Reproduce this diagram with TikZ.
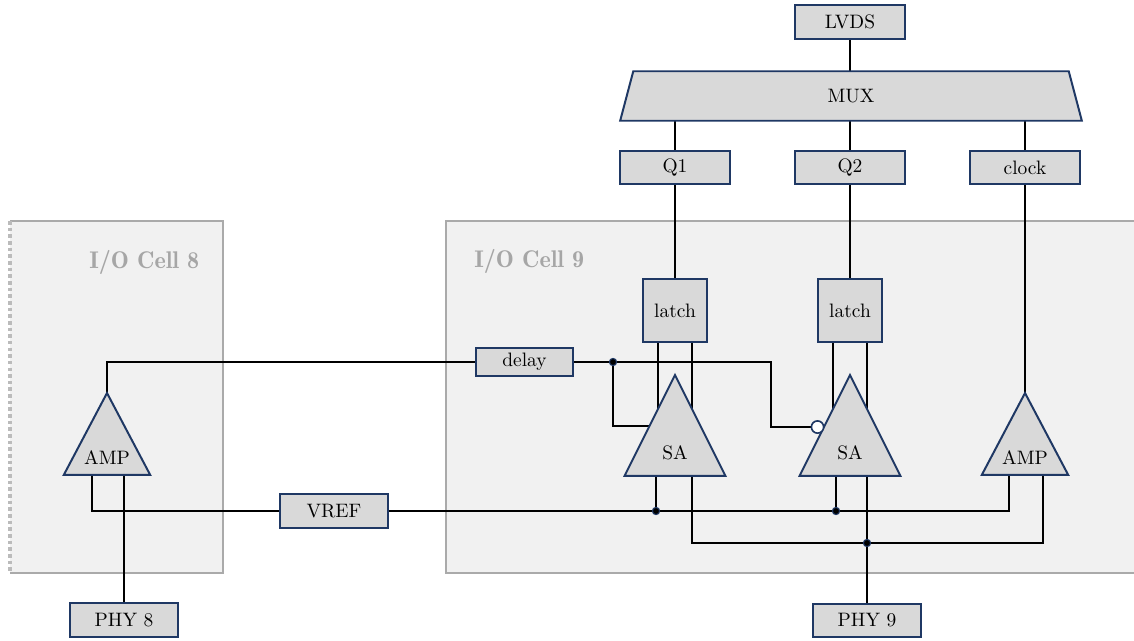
\documentclass[tikz,border=0pt]{standalone}
\usetikzlibrary{positioning,shapes.geometric,backgrounds}
\definecolor{navy}{RGB}{31,56,100}
\definecolor{boxgray}{RGB}{217,217,217}
\definecolor{cellgray}{RGB}{241,241,241}
\definecolor{celledge}{RGB}{170,170,170}
\tikzset{
  blk/.style={rectangle, draw=navy, line width=1.1pt, fill=boxgray, outer sep=0pt, align=center,
              font=\fontsize{10.8pt}{13pt}\selectfont},
  portbox/.style={blk, minimum width=61.3pt, minimum height=18.5pt},
  latchbox/.style={blk, minimum width=35.5pt, minimum height=35.5pt},
  tri/.style={isosceles triangle, isosceles triangle stretches, shape border rotate=90,
              draw=navy, line width=1.1pt, fill=boxgray, inner sep=0pt, outer sep=0pt, anchor=apex,
              font=\fontsize{10.8pt}{13pt}\selectfont},
  amptri/.style={tri, minimum width=48pt, minimum height=45.5pt, text depth=2.2pt},
  satri/.style={tri, minimum width=56pt, minimum height=56pt, text height=12.8pt},
  wire/.style={draw=black, line width=1pt},
  dotj/.style={circle, fill=black, draw=navy, line width=0.6pt, inner sep=0pt, minimum size=4pt},
  bubble/.style={circle, fill=white, draw=navy, line width=0.9pt, inner sep=0pt, minimum size=6.8pt},
  celllab/.style={font=\fontsize{13.4pt}{15pt}\fontseries{b}\selectfont, text=black!35, anchor=west},
}

\begin{document}
\begin{tikzpicture}[x=0.5556pt, y=-0.5556pt]
\useasboundingbox (0,0) rectangle (1134,640);

% ---- top row ----
\node[portbox] (lvds) at (850,22) {LVDS};
\node[blk, trapezium, trapezium left angle=63, trapezium right angle=63, trapezium stretches body=true,
      minimum width=256.5pt, minimum height=27.5pt] (mux) at (851,96) {MUX};
\node[portbox] (q1) at (675,167.5) {Q1};
\node[portbox] (q2) at (850,167.5) {Q2};
\node[portbox] (clock) at (1025,167.5) {clock};

% ---- cell contents ----
\node[latchbox] (latchA) at (675,310.5) {latch};
\node[latchbox] (latchB) at (850,310.5) {latch};
\node[blk, minimum width=53.5pt, minimum height=15.5pt, inner ysep=1.5pt] (delay) at (524.5,362) {delay};
\node[satri] (saA) at (675,375) {SA};
\node[satri] (saB) at (850,375) {SA};
\node[amptri] (amp8) at (107,393) {AMP};
\node[amptri] (ampC) at (1025,393) {AMP};
\node[blk, minimum width=59.5pt, minimum height=18.5pt] (vref) at (334,511) {VREF};
\node[blk, minimum width=59.5pt, minimum height=18.5pt] (phy8) at (124,620) {PHY 8};
\node[blk, minimum width=59.5pt, minimum height=18.5pt] (phy9) at (867,620.5) {PHY 9};

% ---- junctions ----
\node[dotj] (dotD) at (613,362) {};
\node[dotj] (dotA) at (656,511) {};
\node[dotj] (dotB) at (836,511) {};
\node[dotj] (dotC) at (867,543) {};
\node[bubble] (inv) at (817.5,427) {};
\coordinate (bendD) at (771,362);
\coordinate (inA) at (650,426);
\coordinate (ref8) at (92,511);
\coordinate (refC) at (1009,511);
\coordinate (outA) at (692,543);
\coordinate (outC) at (1043,543);

\begin{scope}[on background layer]
  % cells
  \fill[cellgray] (10,221) rectangle (223,573);
  \fill[cellgray] (446,221) rectangle (1134,573);
  \draw[celledge, line width=1.1pt] (10,221) -- (223,221) -- (223,573) -- (10,573);
  \draw[celledge!80, line width=1.8pt, dash pattern=on 2pt off 1.7pt] (10,221) -- (10,573);
  \draw[celledge, line width=1.1pt] (1134,221) -- (446,221) -- (446,573) -- (1134,573);

  % wires
  \draw[wire] (lvds.south) -- (lvds.south |- mux.north);
  \draw[wire] (q1.north) -- (q1.north |- mux.south);
  \draw[wire] (q2.north) -- (q2.north |- mux.south);
  \draw[wire] (clock.north) -- (clock.north |- mux.south);
  \draw[wire] (q1.south) -- (q1.south |- latchA.north);
  \draw[wire] (q2.south) -- (q2.south |- latchB.north);
  \draw[wire] (clock.south) -- (ampC.apex);
  \foreach \n/\m in {latchA/saA,latchB/saB}{
    \draw[wire] ([xshift=-9.5pt]\n.south) -- ([xshift=-9.5pt]\m.center);
    \draw[wire] ([xshift=9.5pt]\n.south) -- ([xshift=9.5pt]\m.center);
  }
  \draw[wire] (amp8.apex) |- (delay.west);
  \draw[wire] (delay.east) -- (dotD) -- (bendD) |- (inv.west);
  \draw[wire] (dotD) |- (inA);
  \draw[wire] (vref.west) -- (ref8) -- (ref8 |- amp8.south);
  \draw[wire] (vref.east) -- (refC) -- (refC |- ampC.south);
  \draw[wire] (dotA) -- (dotA |- saA.south);
  \draw[wire] (dotB) -- (dotB |- saB.south);
  \draw[wire] (outA |- saA.south) -- (outA) -- (outC) -- (outC |- ampC.south);
  \draw[wire] (phy8.north) -- (phy8.north |- amp8.south);
  \draw[wire] (phy9.north) -- (phy9.north |- saB.south);
\end{scope}

% ---- cell labels ----
\node[celllab] (lab8) at (83,262) {I/O Cell 8};
\node[celllab] (lab9) at (468,261) {I/O Cell 9};

\end{tikzpicture}
\end{document}
